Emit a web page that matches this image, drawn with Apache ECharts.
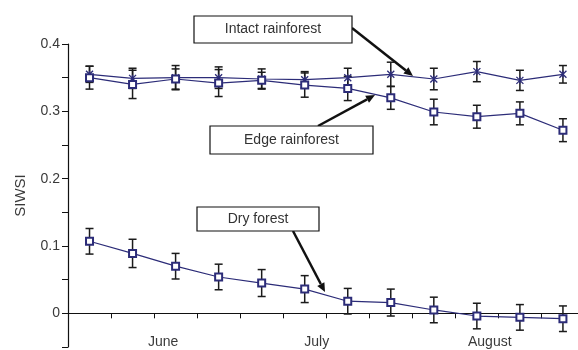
<!DOCTYPE html>
<html>
<head>
<meta charset="utf-8">
<script src="https://cdn.jsdelivr.net/npm/echarts@6/dist/echarts.min.js"></script>
<style>html,body{margin:0;padding:0;background:#fff}#c{width:578px;height:350px}</style>
</head>
<body>
<div id="c"></div>
<script>
// Sampling dates (12 roughly weekly samples, June-August)
const samples = ['1','2','3','4','5','6','7','8','9','10','11','12'];
const months = ['June', 'July', 'August'];
const monthLabelValues = [2.21, 5.78, 9.80];
const yTickLabels = ['0', '0.1', '0.2', '0.3', '0.4'];

const intact    = [0.355, 0.349, 0.350, 0.350, 0.348, 0.347, 0.350, 0.355, 0.348, 0.359, 0.346, 0.355];
const intactErr = [0.012, 0.015, 0.018, 0.016, 0.015, 0.012, 0.014, 0.018, 0.016, 0.015, 0.015, 0.013];
const edge      = [0.350, 0.340, 0.348, 0.342, 0.346, 0.339, 0.334, 0.320, 0.299, 0.292, 0.297, 0.272];
const edgeErr   = [0.017, 0.021, 0.015, 0.020, 0.012, 0.018, 0.018, 0.017, 0.019, 0.017, 0.017, 0.017];
const dry       = [0.107, 0.089, 0.070, 0.054, 0.045, 0.036, 0.018, 0.016, 0.005, -0.004, -0.006, -0.008];
const dryErr    = [0.019, 0.021, 0.019, 0.019, 0.020, 0.020, 0.019, 0.020, 0.019, 0.019, 0.019, 0.019];

const NAVY = '#2c2c78';
const FONT = 'Liberation Sans, Arial, sans-serif';

function pts(vals) { return vals.map((v, i) => [i + 0.5, v]); }
function errData(vals, errs) { return vals.map((v, i) => [i + 0.5, v - errs[i], v + errs[i]]); }

function errSeries(vals, errs) {
  return {
    type: 'custom',
    silent: true,
    z: 2,
    data: errData(vals, errs),
    renderItem: function (params, api) {
      const x = api.value(0);
      const lo = api.coord([x, api.value(1)]);
      const hi = api.coord([x, api.value(2)]);
      const cap = 4;
      const st = { stroke: '#1b1b1b', lineWidth: 1.5 };
      return {
        type: 'group',
        children: [
          { type: 'line', shape: { x1: lo[0], y1: lo[1], x2: hi[0], y2: hi[1] }, style: st },
          { type: 'line', shape: { x1: lo[0] - cap, y1: lo[1], x2: lo[0] + cap, y2: lo[1] }, style: st },
          { type: 'line', shape: { x1: hi[0] - cap, y1: hi[1], x2: hi[0] + cap, y2: hi[1] }, style: st }
        ]
      };
    }
  };
}

function lineSeries(name, vals, symbol) {
  const empty = symbol === 'emptyRect';
  return {
    name: name,
    type: 'line',
    z: 3,
    data: pts(vals),
    symbol: symbol,
    symbolSize: 7,
    showAllSymbol: true,
    lineStyle: { color: NAVY, width: 1.2 },
    itemStyle: empty
      ? { color: NAVY, borderColor: NAVY, borderWidth: 1.4 }
      : { color: 'rgba(0,0,0,0)', borderColor: NAVY, borderWidth: 1.3 },
    emphasis: { disabled: true },
    animation: false
  };
}

function arrow(x1, y1, x2, y2) {
  const a = Math.atan2(y2 - y1, x2 - x1);
  const L = 9, W = 4;
  const bx = x2 - L * Math.cos(a), by = y2 - L * Math.sin(a);
  const px = -Math.sin(a) * W, py = Math.cos(a) * W;
  return [
    { type: 'line', shape: { x1: x1, y1: y1, x2: bx, y2: by }, style: { stroke: '#111', lineWidth: 2.5 } },
    { type: 'polygon', shape: { points: [[x2, y2], [bx + px, by + py], [bx - px, by - py]] }, style: { fill: '#111' } }
  ];
}

function box(x, y, w, h, label) {
  return [
    { type: 'rect', shape: { x: x, y: y, width: w, height: h }, style: { fill: '#fff', stroke: '#111', lineWidth: 1.2 }, z: 10 },
    { type: 'text', x: x + w / 2, y: y + h / 2, z: 11,
      style: { text: label, fill: '#333', font: '14px ' + FONT, align: 'center', verticalAlign: 'middle' } }
  ];
}

const chart = echarts.init(document.getElementById('c'), null, { renderer: 'canvas' });
chart.setOption({
  animation: false,
  backgroundColor: '#fff',
  grid: { left: 68, right: 0, top: 44, bottom: 3, containLabel: false, outerBoundsMode: 'none' },
  xAxis: {
    type: 'value',
    min: 0,
    max: 11.85,
    interval: 1,
    splitLine: { show: false },
    axisLine: { onZero: true, lineStyle: { color: '#111', width: 1.2 } },
    axisTick: { show: true, length: 5, lineStyle: { color: '#111', width: 1 } },
    axisLabel: {
      customValues: monthLabelValues,
      margin: -12,
      color: '#3a3a3a',
      fontFamily: FONT,
      fontSize: 14,
      formatter: function (v) {
        const k = monthLabelValues.findIndex(m => Math.abs(m - v) < 1e-6);
        return k >= 0 ? months[k] : '';
      }
    }
  },
  yAxis: {
    type: 'value',
    min: -0.05,
    max: 0.4,
    interval: 0.05,
    name: 'SIWSI',
    nameLocation: 'middle',
    nameGap: 40,
    nameTextStyle: { color: '#3a3a3a', fontFamily: FONT, fontSize: 15 },
    splitLine: { show: false },
    axisLine: { show: true, lineStyle: { color: '#111', width: 1.2 } },
    axisTick: { show: true, length: 6, lineStyle: { color: '#111', width: 1 } },
    axisLabel: {
      margin: 8,
      color: '#3a3a3a',
      fontFamily: FONT,
      fontSize: 14,
      formatter: function (v) {
        const r = Math.round(v * 100);
        if (r < 0 || r % 10 !== 0) return '';
        return yTickLabels[r / 10];
      }
    }
  },
  series: [
    errSeries(intact, intactErr),
    errSeries(edge, edgeErr),
    errSeries(dry, dryErr),
    lineSeries('Intact rainforest', intact, 'path://M0,0L10,10M10,0L0,10M5,0L5,10'),
    lineSeries('Edge rainforest', edge, 'emptyRect'),
    lineSeries('Dry forest', dry, 'emptyRect')
  ],
  graphic: [].concat(
    arrow(352, 28, 413, 76),
    arrow(318, 126, 375, 95),
    arrow(293, 231, 325, 292),
    box(194, 16, 158, 27, 'Intact rainforest'),
    box(210, 126, 163, 28, 'Edge rainforest'),
    box(197, 207, 122, 24, 'Dry forest')
  )
});
</script>
</body>
</html>
